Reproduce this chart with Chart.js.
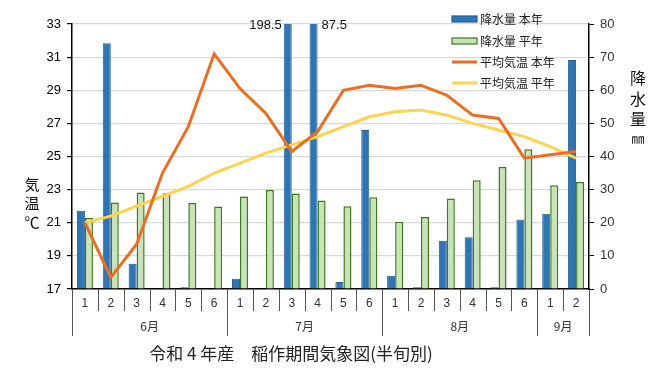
<!DOCTYPE html>
<html>
<head>
<meta charset="utf-8">
<script src="https://cdn.jsdelivr.net/npm/chart.js@4"></script>
<style>
  body { margin: 0; background: #fff; }
  #wrap { width: 669px; height: 377px; }
</style>
</head>
<body>
<div id="wrap"><canvas id="myChart" width="669" height="377"></canvas></div>
<script>
const categories = ["1", "2", "3", "4", "5", "6", "1", "2", "3", "4", "5", "6", "1", "2", "3", "4", "5", "6", "1", "2"];
const monthLabels = ["6月", "7月", "8月", "9月"];
const monthSpans = [6, 6, 6, 2];

const precipThisYear = [23.6, 74.2, 7.6, 0, 0.5, 0, 3.1, 0, 198.5, 87.5, 2.1, 48.0, 4.0, 0.5, 14.6, 15.6, 0.5, 21.0, 22.7, 69.1];
const precipNormal = [21.4, 26.1, 29.1, 28.9, 26.0, 24.9, 27.9, 29.9, 28.8, 26.7, 25.0, 27.7, 20.3, 21.7, 27.3, 32.8, 36.8, 42.2, 31.3, 32.3];
const tempThisYear = [21.0, 17.7, 19.7, 24.0, 26.8, 31.2, 29.1, 27.6, 25.3, 26.5, 29.0, 29.3, 29.1, 29.3, 28.7, 27.5, 27.3, 24.9, 25.1, 25.3];
const tempNormal = [21.0, 21.4, 22.0, 22.6, 23.2, 24.0, 24.6, 25.2, 25.7, 26.2, 26.8, 27.4, 27.7, 27.8, 27.5, 27.0, 26.6, 26.2, 25.6, 24.9];

const tempTicks = [17, 33, 2];
const precipTicks = [0, 80, 10];

const jp = '"Noto Sans CJK JP", sans-serif';
const num = '"Liberation Sans", Arial, sans-serif';

const extras = {
  id: "extras",
  afterDraw(chart) {
    const c = chart.ctx;
    const x = chart.scales.x;
    const area = chart.chartArea;
    const step = (x.right - x.left) / categories.length;

    c.save();
    // category separators
    c.strokeStyle = "#555";
    c.lineWidth = 1;
    const longAt = [0];
    let acc = 0;
    monthSpans.forEach(s => { acc += s; longAt.push(acc); });
    for (let i = 0; i <= categories.length; i++) {
      const px = Math.round(x.left + i * step) + 0.5;
      c.beginPath();
      c.moveTo(px, area.bottom);
      c.lineTo(px, longAt.includes(i) ? 336 : 311);
      c.stroke();
    }
    // digits
    c.fillStyle = "#333";
    c.font = "12px " + num;
    c.textAlign = "center";
    c.textBaseline = "middle";
    categories.forEach((lab, i) => {
      c.fillText(lab, x.getPixelForValue(i), 304);
    });
    // months
    c.font = "12px " + jp;
    let start = 0;
    monthLabels.forEach((m, k) => {
      const mid = x.left + (start + monthSpans[k] / 2) * step;
      c.fillText(m, mid, 326);
      start += monthSpans[k];
    });
    // title
    c.fillStyle = "#222";
    c.font = "17px " + jp;
    c.fillText("令和 4 年産　稲作期間気象図(半旬別)", 291, 354);

    // axis titles
    c.fillStyle = "#111";
    c.font = "15px " + jp;
    ["気", "温", "℃"].forEach((ch, i) => c.fillText(ch, 32, 184 + i * 19));
    c.font = "16px " + jp;
    ["降", "水", "量"].forEach((ch, i) => c.fillText(ch, 638, 78 + i * 20.5));
    c.font = "13px " + jp;
    c.fillText("㎜", 638, 138);

    // values of bars beyond the scale
    const meta = chart.getDatasetMeta(0);
    c.fillStyle = "#111";
    c.font = "13px " + num;
    precipThisYear.forEach((v, i) => {
      if (v <= precipTicks[1]) return;
      const bar = meta.data[i];
      const nextOver = precipThisYear[i + 1] > precipTicks[1];
      if (nextOver) {
        c.textAlign = "right";
        c.fillText(v.toFixed(1), bar.x - bar.width / 2 - 2, area.top + 1);
      } else {
        c.textAlign = "left";
        c.fillText(v.toFixed(1), bar.x + bar.width / 2 + 4, area.top + 1);
      }
    });

    // legend
    c.textAlign = "left";
    c.font = "12px " + jp;
    const ly = [19, 41, 62, 83];
    chart.data.datasets.forEach((ds, i) => {
      const y = ly[i];
      if (ds.type === "bar") {
        c.fillStyle = ds.backgroundColor;
        c.fillRect(452, y - 3, 25, 6);
        c.strokeStyle = ds.borderColor;
        c.lineWidth = 1.2;
        c.strokeRect(452, y - 3, 25, 6);
      } else {
        c.strokeStyle = ds.borderColor;
        c.lineWidth = 3;
        c.beginPath();
        c.moveTo(452, y);
        c.lineTo(477, y);
        c.stroke();
      }
      c.fillStyle = "#222";
      c.fillText(ds.label, 480, y);
    });
    c.restore();
  }
};

const ctx = document.getElementById("myChart");

new Chart(ctx, {
  data: {
    labels: categories,
    datasets: [
      {
        type: "bar",
        label: "降水量 本年",
        data: precipThisYear,
        yAxisID: "y1",
        backgroundColor: "#2E75B6",
        borderColor: "#245E93",
        borderWidth: 1,
        categoryPercentage: 0.62,
        barPercentage: 1,
        order: 2,
      },
      {
        type: "bar",
        label: "降水量 平年",
        data: precipNormal,
        yAxisID: "y1",
        backgroundColor: "#C9E3B9",
        borderColor: "#3B7A17",
        borderWidth: 1.5,
        categoryPercentage: 0.62,
        barPercentage: 1,
        order: 2,
      },
      {
        type: "line",
        label: "平均気温 本年",
        data: tempThisYear,
        yAxisID: "y",
        borderColor: "#EE6D1F",
        borderWidth: 3,
        pointRadius: 0,
        tension: 0,
        order: 0,
      },
      {
        type: "line",
        label: "平均気温 平年",
        data: tempNormal,
        yAxisID: "y",
        borderColor: "#FFD34F",
        borderWidth: 3,
        pointRadius: 0,
        tension: 0,
        order: 1,
      },
    ],
  },
  options: {
    responsive: false,
    animation: false,
    events: [],
    layout: { padding: { top: 24, left: 0, right: 0, bottom: 0 } },
    plugins: {
      legend: { display: false },
      tooltip: { enabled: false },
    },
    scales: {
      x: {
        grid: { display: false },
        ticks: { display: false },
        border: { color: "#000", width: 1.5 },
        afterFit(scale) { scale.height = 88; },
      },
      y: {
        position: "left",
        min: tempTicks[0],
        max: tempTicks[1],
        ticks: {
          stepSize: tempTicks[2],
          color: "#000",
          padding: 6,
          font: { family: num, size: 13 },
        },
        grid: { color: "#D9D9D9", lineWidth: 1.2, tickLength: 5, tickColor: "#000" },
        border: { color: "#000", width: 1.5 },
        afterFit(scale) { scale.width = 72; },
      },
      y1: {
        position: "right",
        min: precipTicks[0],
        max: precipTicks[1],
        ticks: {
          stepSize: precipTicks[2],
          color: "#333",
          padding: 6,
          font: { family: num, size: 13 },
        },
        grid: { drawOnChartArea: false, tickLength: 5, tickColor: "#000" },
        border: { color: "#000", width: 1.5 },
        afterFit(scale) { scale.width = 80; },
      },
    },
  },
  plugins: [extras],
});
</script>
</body>
</html>
